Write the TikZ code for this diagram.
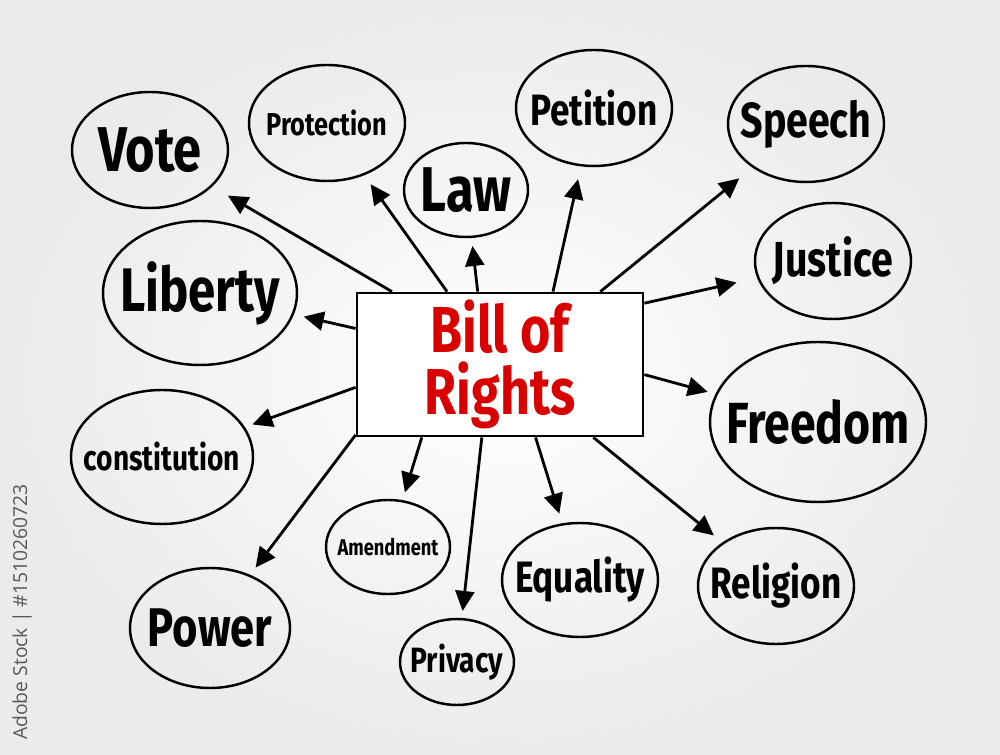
\documentclass[tikz,border=0pt]{standalone}
\usepackage{fontspec}
\newfontfamily\hand[FakeStretch=0.8]{Fira Sans}
\newfontfamily\wmark{Open Sans}
\usetikzlibrary{shapes.geometric,arrows.meta}

\begin{document}
\begin{tikzpicture}[
  x=0.2mm, y=-0.2mm,
  bubble/.style 2 args={draw, ellipse, line width=1.4pt, inner ysep=0pt, inner xsep=-6mm,
                        minimum width=#1, minimum height=#2},
  lbl/.style={font=\hand\bfseries\fontsize{#1}{#1}\selectfont},
  centre/.style={draw, line width=1.6pt, fill=white, align=center, text=red!85!black,
                 minimum width=57.2mm, minimum height=28.6mm, inner sep=0pt},
  arrow/.style={-{Triangle[length=4mm, width=3.8mm]}, line width=1.6pt},
]
% Background
\shade[inner color=white, outer color=black!8] (0,0) rectangle (1000,755);
\useasboundingbox (0,0) rectangle (1000,755);

% Centre
\node[centre, font=\hand\bfseries\fontsize{37}{35}\selectfont] (bill) at (500,364.5) {Bill of\\Rights};

% Topics
\node[bubble={31.2mm}{23.2mm}, lbl=36] (vote)   at (150,150) {Vote};
\node[bubble={31.2mm}{23.2mm}, lbl=18] (prot)   at (327,123) {Protection};
\node[bubble={24.8mm}{18.8mm}, lbl=36] (law)    at (466,190) {Law};
\node[bubble={31.2mm}{23.2mm}, lbl=25] (pet)    at (594,108) {Petition};
\node[bubble={31.2mm}{23.2mm}, lbl=28] (speech) at (806,124) {Speech};
\node[bubble={31.2mm}{23.2mm}, lbl=28] (just)   at (833,261) {Justice};
\node[bubble={38.8mm}{28.8mm}, lbl=35] (lib)    at (200,293) {Liberty};
\node[bubble={43.2mm}{32mm},   lbl=33] (free)   at (818,422) {Freedom};
\node[bubble={36.4mm}{26.8mm}, lbl=20] (const)  at (162,457) {constitution};
\node[bubble={24.8mm}{18.8mm}, lbl=13] (amend)  at (388,547) {Amendment};
\node[bubble={31.2mm}{22.8mm}, lbl=25] (equal)  at (580,580) {Equality};
\node[bubble={31.2mm}{23.2mm}, lbl=25] (relig)  at (776,586) {Religion};
\node[bubble={32mm}{24mm},     lbl=31] (power)  at (210,628) {Power};
\node[bubble={22.8mm}{17.2mm}, lbl=20] (priv)   at (457,662) {Privacy};

% Stock mark
\node[rotate=90, text=black!65, font=\wmark\fontsize{11}{11}\selectfont] (stock) at (22,612) {Adobe Stock | \#1510260723};

% Arrows
\draw[arrow, shorten >=3.6mm] (bill.146) -- (vote);
\draw[arrow, shorten >=2.2mm] (bill.126) -- (prot);
\draw[arrow, shorten >=1.6mm] (bill.107) -- (law);
\draw[arrow, shorten >=2.6mm] (bill.54) -- (pet);
\draw[arrow, shorten >=3.4mm] (bill.36.5) -- (speech);
\draw[arrow, shorten >=4.2mm] (bill.23) -- (just);
\draw[arrow, shorten >=2mm]   (bill.166) -- (lib);
\draw[arrow, shorten >=1.6mm] (bill.-4.6) -- (free);
\draw[arrow, shorten >=1.6mm] (bill.189) -- (const);
\draw[arrow, shorten >=1.8mm] (bill.206) -- (power);
\draw[arrow, shorten >=1.6mm] (bill.223) -- (amend);
\draw[arrow, shorten >=1.4mm] (bill.256.6) -- (priv);
\draw[arrow, shorten >=2mm]   (bill.296.7) -- (equal);
\draw[arrow, shorten >=2.2mm] (bill.322) -- (relig);
\end{tikzpicture}
\end{document}
